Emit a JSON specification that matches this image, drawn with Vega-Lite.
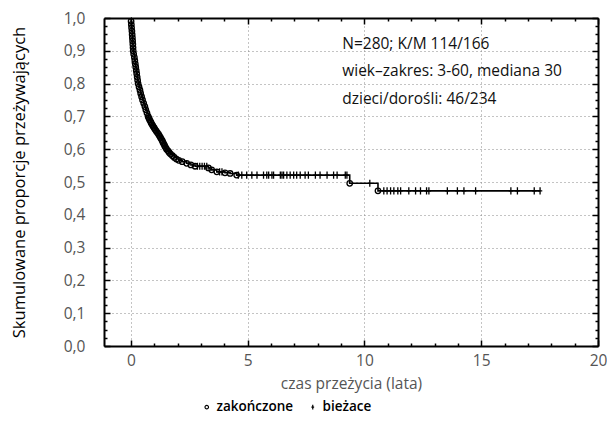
{
  "$schema": "https://vega.github.io/schema/vega-lite/v6.json",
  "width": 494,
  "height": 328,
  "autosize": {"type": "none"},
  "padding": {"left": 104, "top": 18, "right": 9, "bottom": 77},
  "background": "white",
  "config": {
    "font": "Open Sans",
    "view": {"stroke": null}
  },
  "datasets": {
    "km": [
      {"t": 0, "s": 1, "k": "start"},
      {"t": 0.01, "s": 0.99, "k": "zakończone"},
      {"t": 0.02, "s": 0.98, "k": "zakończone"},
      {"t": 0.03, "s": 0.97, "k": "zakończone"},
      {"t": 0.045, "s": 0.96, "k": "zakończone"},
      {"t": 0.055, "s": 0.95, "k": "zakończone"},
      {"t": 0.065, "s": 0.94, "k": "zakończone"},
      {"t": 0.075, "s": 0.93, "k": "zakończone"},
      {"t": 0.085, "s": 0.92, "k": "zakończone"},
      {"t": 0.093, "s": 0.91, "k": "zakończone"},
      {"t": 0.1, "s": 0.9, "k": "zakończone"},
      {"t": 0.12, "s": 0.89, "k": "zakończone"},
      {"t": 0.15, "s": 0.88, "k": "zakończone"},
      {"t": 0.17, "s": 0.87, "k": "zakończone"},
      {"t": 0.19, "s": 0.86, "k": "zakończone"},
      {"t": 0.21, "s": 0.85, "k": "zakończone"},
      {"t": 0.23, "s": 0.84, "k": "zakończone"},
      {"t": 0.25, "s": 0.83, "k": "zakończone"},
      {"t": 0.27, "s": 0.82, "k": "zakończone"},
      {"t": 0.29, "s": 0.81, "k": "zakończone"},
      {"t": 0.31, "s": 0.8, "k": "zakończone"},
      {"t": 0.35, "s": 0.79, "k": "zakończone"},
      {"t": 0.39, "s": 0.78, "k": "zakończone"},
      {"t": 0.42, "s": 0.77, "k": "zakończone"},
      {"t": 0.46, "s": 0.76, "k": "zakończone"},
      {"t": 0.5, "s": 0.75, "k": "zakończone"},
      {"t": 0.55, "s": 0.74, "k": "zakończone"},
      {"t": 0.6, "s": 0.73, "k": "zakończone"},
      {"t": 0.64, "s": 0.72, "k": "zakończone"},
      {"t": 0.69, "s": 0.71, "k": "zakończone"},
      {"t": 0.74, "s": 0.7, "k": "zakończone"},
      {"t": 0.77, "s": 0.695, "k": "zakończone"},
      {"t": 0.8, "s": 0.69, "k": "zakończone"},
      {"t": 0.84, "s": 0.685, "k": "zakończone"},
      {"t": 0.87, "s": 0.68, "k": "zakończone"},
      {"t": 0.91, "s": 0.675, "k": "zakończone"},
      {"t": 0.95, "s": 0.67, "k": "zakończone"},
      {"t": 1.0, "s": 0.665, "k": "zakończone"},
      {"t": 1.04, "s": 0.66, "k": "zakończone"},
      {"t": 1.09, "s": 0.655, "k": "zakończone"},
      {"t": 1.14, "s": 0.65, "k": "zakończone"},
      {"t": 1.19, "s": 0.645, "k": "zakończone"},
      {"t": 1.23, "s": 0.64, "k": "zakończone"},
      {"t": 1.27, "s": 0.635, "k": "zakończone"},
      {"t": 1.31, "s": 0.63, "k": "zakończone"},
      {"t": 1.35, "s": 0.625, "k": "zakończone"},
      {"t": 1.38, "s": 0.62, "k": "zakończone"},
      {"t": 1.42, "s": 0.615, "k": "zakończone"},
      {"t": 1.45, "s": 0.61, "k": "zakończone"},
      {"t": 1.49, "s": 0.605, "k": "zakończone"},
      {"t": 1.53, "s": 0.6, "k": "zakończone"},
      {"t": 1.59, "s": 0.595, "k": "zakończone"},
      {"t": 1.64, "s": 0.59, "k": "zakończone"},
      {"t": 1.7, "s": 0.585, "k": "zakończone"},
      {"t": 1.78, "s": 0.58, "k": "zakończone"},
      {"t": 1.86, "s": 0.575, "k": "zakończone"},
      {"t": 1.95, "s": 0.57, "k": "zakończone"},
      {"t": 2.05, "s": 0.566, "k": "zakończone"},
      {"t": 2.2, "s": 0.562, "k": "zakończone"},
      {"t": 2.39, "s": 0.557, "k": "zakończone"},
      {"t": 2.57, "s": 0.552, "k": "zakończone"},
      {"t": 2.75, "s": 0.548, "k": "zakończone"},
      {"t": 2.85, "s": 0.548, "k": "bieżace"},
      {"t": 2.95, "s": 0.548, "k": "bieżace"},
      {"t": 3.05, "s": 0.548, "k": "bieżace"},
      {"t": 3.15, "s": 0.548, "k": "bieżace"},
      {"t": 3.25, "s": 0.548, "k": "bieżace"},
      {"t": 3.32, "s": 0.543, "k": "zakończone"},
      {"t": 3.46, "s": 0.537, "k": "zakończone"},
      {"t": 3.68, "s": 0.531, "k": "zakończone"},
      {"t": 3.8, "s": 0.531, "k": "bieżace"},
      {"t": 3.9, "s": 0.531, "k": "bieżace"},
      {"t": 4.03, "s": 0.528, "k": "zakończone"},
      {"t": 4.25, "s": 0.526, "k": "zakończone"},
      {"t": 4.53, "s": 0.521, "k": "zakończone"},
      {"t": 4.6, "s": 0.521, "k": "bieżace"},
      {"t": 4.75, "s": 0.521, "k": "bieżace"},
      {"t": 4.96, "s": 0.521, "k": "bieżace"},
      {"t": 5.18, "s": 0.521, "k": "bieżace"},
      {"t": 5.4, "s": 0.521, "k": "bieżace"},
      {"t": 5.68, "s": 0.521, "k": "bieżace"},
      {"t": 5.82, "s": 0.521, "k": "bieżace"},
      {"t": 5.9, "s": 0.521, "k": "bieżace"},
      {"t": 6.04, "s": 0.521, "k": "bieżace"},
      {"t": 6.11, "s": 0.521, "k": "bieżace"},
      {"t": 6.4, "s": 0.521, "k": "bieżace"},
      {"t": 6.47, "s": 0.521, "k": "bieżace"},
      {"t": 6.54, "s": 0.521, "k": "bieżace"},
      {"t": 6.68, "s": 0.521, "k": "bieżace"},
      {"t": 6.82, "s": 0.521, "k": "bieżace"},
      {"t": 6.97, "s": 0.521, "k": "bieżace"},
      {"t": 7.1, "s": 0.521, "k": "bieżace"},
      {"t": 7.25, "s": 0.521, "k": "bieżace"},
      {"t": 7.46, "s": 0.521, "k": "bieżace"},
      {"t": 7.6, "s": 0.521, "k": "bieżace"},
      {"t": 7.9, "s": 0.521, "k": "bieżace"},
      {"t": 8.1, "s": 0.521, "k": "bieżace"},
      {"t": 8.4, "s": 0.521, "k": "bieżace"},
      {"t": 8.68, "s": 0.521, "k": "bieżace"},
      {"t": 8.83, "s": 0.521, "k": "bieżace"},
      {"t": 9.18, "s": 0.521, "k": "bieżace"},
      {"t": 9.25, "s": 0.521, "k": "bieżace"},
      {"t": 9.37, "s": 0.496, "k": "zakończone"},
      {"t": 10.23, "s": 0.496, "k": "bieżace"},
      {"t": 10.58, "s": 0.473, "k": "zakończone"},
      {"t": 10.83, "s": 0.473, "k": "bieżace"},
      {"t": 10.97, "s": 0.473, "k": "bieżace"},
      {"t": 11.12, "s": 0.473, "k": "bieżace"},
      {"t": 11.26, "s": 0.473, "k": "bieżace"},
      {"t": 11.43, "s": 0.473, "k": "bieżace"},
      {"t": 11.55, "s": 0.473, "k": "bieżace"},
      {"t": 11.9, "s": 0.473, "k": "bieżace"},
      {"t": 12.19, "s": 0.473, "k": "bieżace"},
      {"t": 12.4, "s": 0.473, "k": "bieżace"},
      {"t": 12.66, "s": 0.473, "k": "bieżace"},
      {"t": 12.76, "s": 0.473, "k": "bieżace"},
      {"t": 13.55, "s": 0.473, "k": "bieżace"},
      {"t": 13.98, "s": 0.473, "k": "bieżace"},
      {"t": 14.26, "s": 0.473, "k": "bieżace"},
      {"t": 14.76, "s": 0.473, "k": "bieżace"},
      {"t": 16.27, "s": 0.473, "k": "bieżace"},
      {"t": 16.55, "s": 0.473, "k": "bieżace"},
      {"t": 17.27, "s": 0.473, "k": "bieżace"},
      {"t": 17.52, "s": 0.473, "k": "bieżace"}
    ],
    "notes": [
      {"t": 9.05, "s": 0.92, "txt": "N=280; K/M 114/166"},
      {"t": 9.05, "s": 0.838, "txt": "wiek–zakres: 3-60, mediana 30"},
      {"t": 9.05, "s": 0.753, "txt": "dzieci/dorośli: 46/234"}
    ]
  },
  "layer": [
    {
      "data": {"name": "km"},
      "mark": {"type": "line", "interpolate": "step-after", "color": "black", "strokeWidth": 1.6},
      "encoding": {
        "x": {
          "field": "t", "type": "quantitative",
          "scale": {"domain": [-1.15, 20], "nice": false, "zero": false},
          "axis": {
            "orient": "bottom",
            "values": [0,1,2,3,4,5,6,7,8,9,10,11,12,13,14,15,16,17,18,19,20],
            "labelExpr": "datum.value % 5 === 0 ? format(datum.value, 'd') : ''",
            "labelOverlap": false, "labelFlush": false, "labelBound": false,
            "labelFontSize": 15.5, "labelColor": "#555", "labelPadding": 13,
            "tickSize": {"condition": {"test": "datum.value % 5 === 0", "value": -6}, "value": -3},
            "tickColor": "black", "tickWidth": 1.5,
            "grid": true, "gridDash": [1, 3], "gridColor": "#888", "gridWidth": 1,
            "gridOpacity": {"condition": {"test": "datum.value % 5 === 0", "value": 1}, "value": 0},
            "domainColor": "black", "domainWidth": 2,
            "title": "czas przeżycia (lata)", "titleFontSize": 15.5, "titleFontWeight": "normal",
            "titleColor": "#555", "titlePadding": 5
          }
        },
        "y": {
          "field": "s", "type": "quantitative",
          "scale": {"domain": [0, 1], "nice": false},
          "axis": {
            "orient": "left",
            "values": [0,0.025,0.05,0.075,0.1,0.125,0.15,0.175,0.2,0.225,0.25,0.275,0.3,0.325,0.35,0.375,0.4,0.425,0.45,0.475,0.5,0.525,0.55,0.575,0.6,0.625,0.65,0.675,0.7,0.725,0.75,0.775,0.8,0.825,0.85,0.875,0.9,0.925,0.95,0.975,1],
            "labelExpr": "round(datum.value * 1000) % 100 === 0 ? replace(format(datum.value, '.1f'), '.', ',') : ''",
            "labelOverlap": false, "labelFlush": false, "labelBound": false,
            "labelFontSize": 15.5, "labelColor": "#555", "labelPadding": 25,
            "tickSize": {"condition": {"test": "round(datum.value * 1000) % 100 === 0", "value": -6}, "value": -3},
            "tickColor": "black", "tickWidth": 1.5,
            "grid": true, "gridDash": [1, 3], "gridColor": "#888", "gridWidth": 1,
            "gridOpacity": {"condition": {"test": "round(datum.value * 1000) % 100 === 0", "value": 1}, "value": 0},
            "domainColor": "black", "domainWidth": 2,
            "title": "Skumulowane proporcje przeżywających", "titleFontSize": 16.5, "titleFontWeight": "normal",
            "titleColor": "black", "titlePadding": 36
          }
        }
      }
    },
    {
      "data": {"name": "km"},
      "transform": [{"filter": "datum.k !== 'start'"}],
      "mark": {"type": "point", "filled": false, "color": "black", "strokeWidth": 1.3, "size": 30, "opacity": 1},
      "encoding": {
        "x": {"field": "t", "type": "quantitative", "axis": null},
        "y": {"field": "s", "type": "quantitative", "axis": null},
        "shape": {
          "field": "k", "type": "nominal",
          "scale": {"domain": ["zakończone", "bieżace"], "range": ["circle", "M-0.8,0H0.8M0,-1.3V1.3"]},
          "legend": {
            "title": null, "orient": "none", "direction": "horizontal",
            "legendX": 96, "legendY": 382,
            "labelFontSize": 13.5, "labelFontWeight": 600, "labelColor": "black",
            "labelFont": "Open Sans",
            "symbolSize": 12, "symbolStrokeColor": "black", "symbolStrokeWidth": 1.2,
            "columnPadding": 12, "labelOffset": 3, "symbolOffset": 0
          }
        }
      }
    },
    {
      "data": {"name": "notes"},
      "mark": {"type": "text", "align": "left", "baseline": "middle", "fontSize": 15.5, "color": "#111"},
      "encoding": {
        "x": {"field": "t", "type": "quantitative", "axis": null},
        "y": {"field": "s", "type": "quantitative", "axis": null},
        "text": {"field": "txt"}
      }
    },
    {
      "data": {"name": "km"},
      "mark": {"type": "point", "opacity": 0},
      "encoding": {
        "x": {
          "field": "t", "type": "quantitative",
          "axis": {
            "orient": "top",
            "values": [0,1,2,3,4,5,6,7,8,9,10,11,12,13,14,15,16,17,18,19,20],
            "labels": false, "title": null, "grid": false,
            "tickSize": {"condition": {"test": "datum.value % 5 === 0", "value": -6}, "value": -3},
            "tickColor": "black", "tickWidth": 1.5,
            "domainColor": "black", "domainWidth": 2
          }
        },
        "y": {
          "field": "s", "type": "quantitative",
          "axis": {
            "orient": "right",
            "values": [0,0.025,0.05,0.075,0.1,0.125,0.15,0.175,0.2,0.225,0.25,0.275,0.3,0.325,0.35,0.375,0.4,0.425,0.45,0.475,0.5,0.525,0.55,0.575,0.6,0.625,0.65,0.675,0.7,0.725,0.75,0.775,0.8,0.825,0.85,0.875,0.9,0.925,0.95,0.975,1],
            "labels": false, "title": null, "grid": false,
            "tickSize": {"condition": {"test": "round(datum.value * 1000) % 100 === 0", "value": -6}, "value": -3},
            "tickColor": "black", "tickWidth": 1.5,
            "domainColor": "black", "domainWidth": 2
          }
        }
      }
    }
  ],
  "resolve": {"axis": {"x": "independent", "y": "independent"}}
}
